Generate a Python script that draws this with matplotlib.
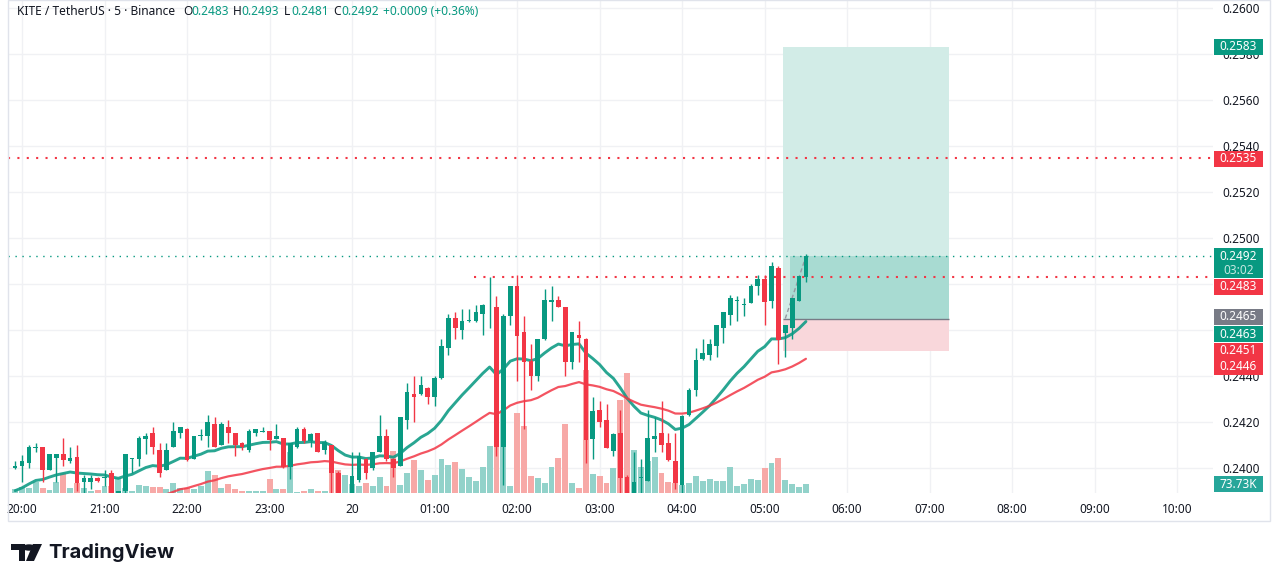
import numpy as np
import pandas as pd
import matplotlib
matplotlib.use('Agg')
import matplotlib.pyplot as plt
import matplotlib.transforms as mtransforms
from matplotlib.patches import Rectangle, Polygon, Circle

plt.rcParams['font.family'] = ['Noto Sans', 'DejaVu Sans']

W, H = 1281, 582

# KITE/USDT 5m candles, 19:55 -> 05:30
first_bar = '2025-11-19 19:55'
opens = [0.24000, 0.24010, 0.24020, 0.24088, 0.24090, 0.23990, 0.24045, 0.24060, 0.24030, 0.24048,
         0.23940, 0.23940, 0.23958, 0.23955, 0.23978, 0.23880, 0.23898, 0.24038, 0.24040, 0.24128,
         0.24150, 0.24080, 0.23990, 0.24090, 0.24150, 0.24170, 0.24040, 0.24138, 0.24138, 0.24190,
         0.24100, 0.24180, 0.24150, 0.24110, 0.24080, 0.24150, 0.24158, 0.24160, 0.24128, 0.24130,
         0.24006, 0.24090, 0.24170, 0.24119, 0.24150, 0.24078, 0.24100, 0.23980, 0.23855, 0.23885,
         0.23946, 0.24040, 0.23998, 0.24070, 0.24140, 0.24040, 0.24010, 0.24207, 0.24322, 0.24320,
         0.24349, 0.24310, 0.24390, 0.24520, 0.24652, 0.24600, 0.24638, 0.24638, 0.24670, 0.24698,
         0.24701, 0.24090, 0.24660, 0.24790, 0.24590, 0.24464, 0.24400, 0.24560, 0.24720, 0.24730,
         0.24700, 0.24460, 0.24578, 0.24562, 0.24128, 0.24250, 0.24209, 0.24075, 0.24150, 0.23962,
         0.23870, 0.23955, 0.23945, 0.24128, 0.24150, 0.24110, 0.24032, 0.23926, 0.24230, 0.24338,
         0.24475, 0.24490, 0.24529, 0.24607, 0.24667, 0.24728, 0.24708, 0.24717, 0.24790, 0.24823,
         0.24728, 0.24871, 0.24587, 0.24607, 0.24728, 0.24830]
highs = [0.24030, 0.24055, 0.24100, 0.24110, 0.24092, 0.24060, 0.24062, 0.24130, 0.24090, 0.24100,
         0.23970, 0.23970, 0.23962, 0.23990, 0.23990, 0.23900, 0.24060, 0.24045, 0.24140, 0.24150,
         0.24180, 0.24110, 0.24110, 0.24200, 0.24180, 0.24172, 0.24140, 0.24170, 0.24230, 0.24220,
         0.24200, 0.24210, 0.24152, 0.24112, 0.24170, 0.24170, 0.24180, 0.24162, 0.24190, 0.24132,
         0.24110, 0.24180, 0.24180, 0.24150, 0.24152, 0.24122, 0.24102, 0.23985, 0.23885, 0.24070,
         0.24070, 0.24042, 0.24070, 0.24230, 0.24170, 0.24042, 0.24220, 0.24370, 0.24400, 0.24400,
         0.24352, 0.24400, 0.24560, 0.24670, 0.24680, 0.24690, 0.24690, 0.24710, 0.24712, 0.24830,
         0.24750, 0.24670, 0.24792, 0.24840, 0.24660, 0.24540, 0.24562, 0.24780, 0.24790, 0.24750,
         0.24702, 0.24592, 0.24640, 0.24564, 0.24310, 0.24290, 0.24280, 0.24150, 0.24250, 0.23970,
         0.24070, 0.24040, 0.24250, 0.24220, 0.24290, 0.24150, 0.24150, 0.24230, 0.24350, 0.24520,
         0.24562, 0.24560, 0.24623, 0.24680, 0.24754, 0.24750, 0.24740, 0.24800, 0.24840, 0.24840,
         0.24894, 0.24880, 0.24622, 0.24739, 0.24833, 0.24930]
lows = [0.23995, 0.23940, 0.24000, 0.24070, 0.23940, 0.23990, 0.23940, 0.24010, 0.24020, 0.23900,
        0.23890, 0.23910, 0.23940, 0.23920, 0.23870, 0.23870, 0.23880, 0.23980, 0.24010, 0.24060,
        0.24060, 0.23960, 0.23990, 0.24090, 0.24130, 0.24030, 0.24040, 0.24120, 0.24090, 0.24090,
        0.24100, 0.24110, 0.24050, 0.24080, 0.24070, 0.24140, 0.24155, 0.24080, 0.24125, 0.24000,
        0.23950, 0.24088, 0.24110, 0.24090, 0.24070, 0.24060, 0.23880, 0.23840, 0.23830, 0.23880,
        0.23940, 0.23950, 0.23990, 0.24068, 0.24030, 0.23960, 0.24008, 0.24170, 0.24200, 0.24318,
        0.24280, 0.24270, 0.24388, 0.24490, 0.24560, 0.24560, 0.24636, 0.24636, 0.24580, 0.24610,
        0.24050, 0.23925, 0.24620, 0.24380, 0.24170, 0.24340, 0.24380, 0.24558, 0.24640, 0.24698,
        0.24400, 0.24430, 0.24460, 0.24020, 0.24040, 0.24180, 0.24087, 0.24050, 0.23860, 0.23850,
        0.23860, 0.23890, 0.23944, 0.24070, 0.24070, 0.24032, 0.23910, 0.23880, 0.24228, 0.24312,
        0.24470, 0.24470, 0.24483, 0.24543, 0.24623, 0.24640, 0.24660, 0.24716, 0.24754, 0.24623,
        0.24696, 0.24454, 0.24483, 0.24562, 0.24728, 0.24810]
closes = [0.24010, 0.24030, 0.24090, 0.24092, 0.23990, 0.24060, 0.24060, 0.24035, 0.24043, 0.23936,
          0.23955, 0.23955, 0.23942, 0.23958, 0.23880, 0.23898, 0.24060, 0.24043, 0.24130, 0.24140,
          0.24090, 0.23980, 0.24080, 0.24160, 0.24180, 0.24035, 0.24140, 0.24142, 0.24200, 0.24090,
          0.24190, 0.24150, 0.24100, 0.24090, 0.24160, 0.24170, 0.24162, 0.24120, 0.24139, 0.24006,
          0.24107, 0.24168, 0.24117, 0.24148, 0.24070, 0.24114, 0.23977, 0.23860, 0.23875, 0.23964,
          0.24051, 0.23977, 0.24070, 0.24140, 0.24040, 0.24000, 0.24220, 0.24332, 0.24307, 0.24360,
          0.24307, 0.24390, 0.24532, 0.24652, 0.24607, 0.24640, 0.24642, 0.24680, 0.24710, 0.24702,
          0.24090, 0.24662, 0.24790, 0.24575, 0.24460, 0.24400, 0.24562, 0.24732, 0.24730, 0.24700,
          0.24459, 0.24590, 0.24567, 0.24120, 0.24249, 0.24200, 0.24087, 0.24148, 0.23958, 0.23870,
          0.23938, 0.23962, 0.24130, 0.24140, 0.24100, 0.24035, 0.23933, 0.24228, 0.24339, 0.24471,
          0.24501, 0.24540, 0.24623, 0.24680, 0.24739, 0.24732, 0.24712, 0.24793, 0.24823, 0.24720,
          0.24880, 0.24558, 0.24622, 0.24739, 0.24833, 0.24920]
volumes_k = [32, 45, 40, 85, 42, 26, 90, 156, 42, 79,
             42, 18, 26, 53, 55, 119, 40, 18, 66, 53,
             45, 48, 32, 77, 42, 42, 34, 53, 172, 140,
             42, 69, 34, 13, 13, 18, 13, 113, 34, 34,
             328, 10, 18, 34, 18, 18, 185, 185, 143, 74,
             58, 82, 58, 129, 58, 335, 66, 161, 264, 185,
             105, 145, 272, 224, 248, 193, 129, 98, 209, 375,
             529, 661, 58, 637, 534, 137, 121, 79, 209, 280,
             550, 82, 42, 975, 153, 137, 82, 201, 740, 954,
             343, 209, 250, 288, 161, 90, 82, 66, 82, 137,
             98, 113, 98, 98, 209, 58, 74, 113, 105, 201,
             240, 280, 105, 74, 50, 73.73]

ema20_seed = 0.2389
ema50_seed = 0.2368

# drawings
resist_level = 0.2535
ray_level = 0.2483
ray_start = '2025-11-20 01:30'
pos_start = '2025-11-20 05:15'
pos_end = '2025-11-20 07:15'
pos_target = 0.2583
pos_entry = 0.2465
pos_stop = 0.2451

tag_values = ['0.2583', '0.2535', '0.2492', '0.2483', '0.2465', '0.2463', '0.2451', '0.2446']
tag_colors = ['#089981', '#f23645', '#089981', '#f23645', '#787b86', '#089981', '#f23645', '#f23645']
tag_y_px = [47, 158.5, 256, 287, 317, 334, 351, 367]

price_ticks = [0.2400, 0.2420, 0.2440, 0.2460, 0.2480, 0.2500, 0.2520, 0.2540, 0.2560, 0.2580, 0.2600]

UP, DOWN = '#089981', '#f23645'
VUP, VDOWN = '#92d2ca', '#f7a9a7'
GRID = '#f0f1f4'
TXT = '#131722'

times = pd.date_range(first_bar, periods=len(opens), freq='5min')
t_ref = pd.Timestamp('2025-11-19 20:00')
step = pd.Timedelta('5min')
x = np.array((times - t_ref) / step, dtype=float)

o = np.array(opens); h = np.array(highs); l = np.array(lows); c = np.array(closes)
up = c >= o
cols = np.where(up, UP, DOWN)
vcols = np.where(up, VUP, VDOWN)

ema20 = pd.Series([ema20_seed] + closes).ewm(span=20, adjust=False).mean().iloc[1:].values
ema50 = pd.Series([ema50_seed] + closes).ewm(span=50, adjust=False).mean().iloc[1:].values

fig = plt.figure(figsize=(W / 100, H / 100), dpi=100)
fig.patch.set_facecolor('white')


def fx(px):
    return px / W


def fy(py):
    return 1 - py / H


rect = [fx(8), fy(493), fx(1213) - fx(8), fy(0) - fy(493)]
axv = fig.add_axes(rect)
ax = fig.add_axes(rect, sharex=axv)
ax.patch.set_visible(False)

ax.set_xlim(-2.04, 173.2)
ax.set_ylim(0.238913, 0.260348)
axv.set_ylim(0, 3910)

for a in (ax, axv):
    for s in a.spines.values():
        s.set_visible(False)
axv.set_yticks([])
axv.tick_params(axis='x', length=0, labelbottom=False)

# grid
hours = pd.date_range('2025-11-19 20:00', '2025-11-20 10:00', freq='h')
hour_x = np.array((hours - t_ref) / step, dtype=float)
hour_lbl = ['20' if t.hour == 0 else t.strftime('%H:%M') for t in hours]
axv.vlines(hour_x, 0, 1, transform=axv.get_xaxis_transform(), color=GRID, lw=1, zorder=0)
axv.hlines(price_ticks, 0, 1, transform=mtransforms.blended_transform_factory(axv.transAxes, ax.transData),
           color=GRID, lw=1, zorder=0)
axv.set_ylim(0, 3910)

# volume
axv.bar(x, volumes_k, width=0.86, color=vcols, linewidth=0, zorder=2)

# long position box
def tx(ts):
    return (pd.Timestamp(ts) - t_ref) / step

bx0 = tx(pos_start) - 0.3
bx1 = tx(pos_end) - 0.2
last_close = closes[-1]
ax.add_patch(Rectangle((bx0, pos_entry), bx1 - bx0, pos_target - pos_entry, facecolor='#d2ece7',
                       edgecolor='none', zorder=1))
ax.add_patch(Rectangle((bx0 + 1.0, pos_entry), bx1 - bx0 - 1.0, last_close - pos_entry,
                       facecolor='#a8dbd2', edgecolor='none', zorder=1.1))
ax.add_patch(Rectangle((bx0, pos_stop), bx1 - bx0, pos_entry - pos_stop, facecolor='#f9d7db',
                       edgecolor='none', zorder=1))
ax.hlines(pos_entry, bx0, bx1, color='#787b86', lw=1, zorder=1.2)
ax.plot([x[-4], x[-1]], [pos_entry, last_close], color='#9598a1', lw=1, ls=(0, (3, 2)), zorder=1.3)

# horizontal levels
xmin, xmax = ax.get_xlim()
ax.hlines(resist_level, xmin, xmax, color=DOWN, lw=1.5, ls=(0, (1, 3.5)), zorder=2)
ax.hlines(ray_level, tx(ray_start) - 0.2, xmax, color=DOWN, lw=1.5, ls=(0, (1, 3.5)), zorder=2)
ax.hlines(last_close, xmin, xmax, color=UP, lw=1, ls=(0, (1, 4)), zorder=2)

# moving averages
ax.plot(x, ema20, color='#119c86', lw=2.1, alpha=0.9, zorder=3, solid_capstyle='round')
ax.plot(x, ema50, color='#f23645', lw=1.6, alpha=0.85, zorder=3, solid_capstyle='round')

# candles
ax.vlines(x, l, h, colors=cols, lw=1, zorder=4)
body_lo = np.minimum(o, c)
body_h = np.maximum(np.abs(c - o), 0.00004)
ax.bar(x, body_h, bottom=body_lo, width=0.68, color=cols, linewidth=0, zorder=5)

# axes ticks
ax.yaxis.tick_right()
ax.set_yticks(price_ticks)
ax.set_yticklabels([f'{p:.4f}' for p in price_ticks])
ax.tick_params(axis='y', length=0, pad=6.5, labelsize=8.5, labelcolor=TXT)
ax.set_xticks(hour_x)
ax.set_xticklabels(hour_lbl)
ax.tick_params(axis='x', length=0, pad=7, labelsize=8.5, labelcolor=TXT)
ax.get_xticklabels()[4].set_fontweight('bold')

# price tags
for val, col, py in zip(tag_values, tag_colors, tag_y_px):
    hgt = 30 if val == tag_values[2] else 16
    top = py - 8
    fig.patches.append(Rectangle((fx(1214), fy(top + hgt)), fx(49), hgt / H, facecolor=col,
                                 edgecolor='none', transform=fig.transFigure, zorder=6))
    fig.text(fx(1238.5), fy(py), val, color='white', fontsize=8.5, fontweight='bold',
             ha='center', va='center', zorder=7)
fig.text(fx(1238.5), fy(270), '03:02', color='#c4e8e1', fontsize=8.5, fontweight='bold',
         ha='center', va='center', zorder=7)

vol_py = H - axv.transData.transform((0, volumes_k[-1]))[1]
fig.patches.append(Rectangle((fx(1214), fy(vol_py + 8.5)), fx(49), 16 / H, facecolor='#26a69a',
                             edgecolor='none', transform=fig.transFigure, zorder=6))
fig.text(fx(1238.5), fy(vol_py + 0.5), f'{volumes_k[-1]:.2f}K', color='white',
         fontsize=8.5, fontweight='bold', ha='center', va='center', zorder=7)

# frame
fig.patches.append(Rectangle((fx(8), fy(521)), fx(1262), 521 / H, facecolor='none', edgecolor='#e0e3eb',
                             lw=1, transform=fig.transFigure, zorder=1))

# header
hy = fy(11.5)
fig.text(fx(17), hy, 'KITE / TetherUS · 5 · Binance', color=TXT, fontsize=8.6, va='center')
for lbl, lx, val, vx in [('O', 183, '0.2483', 191), ('H', 233, '0.2493', 241),
                         ('L', 284, '0.2481', 291), ('C', 333, '0.2492', 341)]:
    fig.text(fx(lx), hy, lbl, color=TXT, fontsize=8.6, va='center')
    fig.text(fx(vx), hy, val, color=UP, fontsize=8.6, va='center')
fig.text(fx(383), hy, '+0.0009 (+0.36%)', color=UP, fontsize=8.6, va='center')

# TradingView logo
logo = '#131722'
fig.patches.append(Rectangle((fx(11), fy(550)), fx(14), 6 / H, facecolor=logo, edgecolor='none',
                             transform=fig.transFigure))
fig.patches.append(Rectangle((fx(19), fy(561)), fx(6), 17 / H, facecolor=logo, edgecolor='none',
                             transform=fig.transFigure))
fig.patches.append(Circle((fx(29), fy(547.5)), 3.2 / H, facecolor=logo, edgecolor='none',
                          transform=fig.transFigure))
fig.patches.append(Polygon([(fx(33), fy(544)), (fx(42), fy(544)), (fx(34), fy(561)), (fx(26), fy(561))],
                           closed=True, facecolor=logo, edgecolor='none', transform=fig.transFigure))
fig.text(fx(48), fy(552), 'TradingView', color=logo, fontsize=14.5, fontweight='bold', va='center',
         family=['Inter', 'DejaVu Sans'])

plt.savefig('out.png', dpi=100)
plt.close()
